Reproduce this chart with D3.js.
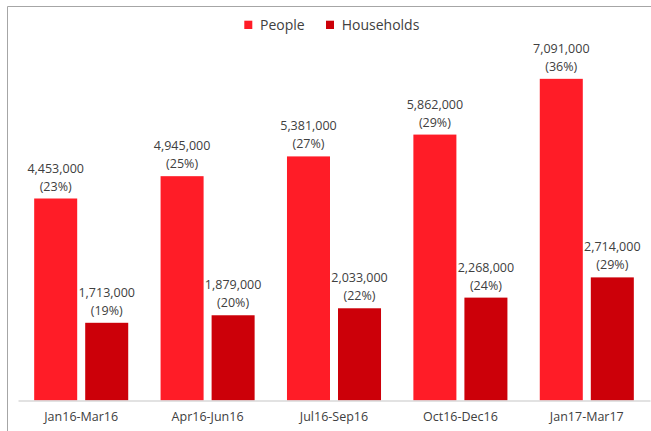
<!DOCTYPE html>
<html>
<head>
<meta charset="utf-8">
<script src="https://cdn.jsdelivr.net/npm/d3@7"></script>
<style>
  body { margin: 0; background: #fff; }
  text { font-family: "Open Sans", sans-serif; fill: #404040; }
</style>
</head>
<body>
<svg id="graph" width="651" height="431"></svg>
<script>
/*
 * Grouped bar chart of people and households per quarter
 */

// Data
var quarters = ["Jan16-Mar16", "Apr16-Jun16", "Jul16-Sep16", "Oct16-Dec16", "Jan17-Mar17"];
var seriesNames = ["People", "Households"];
var people = [4453000, 4945000, 5381000, 5862000, 7091000];
var peoplePct = [23, 25, 27, 29, 36];
var households = [1713000, 1879000, 2033000, 2268000, 2714000];
var householdsPct = [19, 20, 22, 24, 29];

var colors = {"People": "#ff1c27", "Households": "#cc0009"};

// Get the SVG, and its dimensions
var svg = d3.select("#graph"),
    width = +svg.attr("width"),
    height = +svg.attr("height"),
    margin = {top: 37.6, right: 1, bottom: 30.5, left: 18};

// Frame round the chart (only top and left edges are in the picture)
svg.append("path")
    .attr("d", "M7.5," + height + "V6.5H" + width)
    .attr("fill", "none")
    .attr("stroke", "#a6a6a6")
    .attr("stroke-width", 1);

// Scales
var xScale = d3.scaleBand().domain(quarters)
    .range([margin.left, width - margin.right])
    .paddingInner(0.256).paddingOuter(0.128);
var xSub = d3.scaleBand().domain(seriesNames)
    .range([0, xScale.bandwidth()])
    .paddingInner(0.157);
var yScale = d3.scaleLinear().domain([0, 8000000])
    .range([height - margin.bottom, margin.top]);

// Build rows from the arrays
var rows = [];
for ( var i = 0; i < quarters.length; ++i ) {
    rows.push({q: quarters[i], s: "People", v: people[i], p: peoplePct[i]});
    rows.push({q: quarters[i], s: "Households", v: households[i], p: householdsPct[i]});
}

// Bars
svg.append("g").selectAll("rect").data(rows).enter().append("rect")
    .attr("x", d => xScale(d.q) + xSub(d.s))
    .attr("y", d => yScale(d.v))
    .attr("width", xSub.bandwidth())
    .attr("height", d => yScale(0) - yScale(d.v))
    .attr("fill", d => colors[d.s]);

// Value labels, two lines above each bar
var fmt = d3.format(",");
var lab = svg.append("g").selectAll("g").data(rows).enter().append("g")
    .attr("transform", d => "translate(" + (xScale(d.q) + xSub(d.s) + xSub.bandwidth() / 2) + "," + yScale(d.v) + ")");
lab.append("text")
    .attr("y", -26)
    .attr("text-anchor", "middle")
    .style("font-size", "12.5px")
    .text(d => fmt(d.v));
lab.append("text")
    .attr("y", -8)
    .attr("text-anchor", "middle")
    .style("font-size", "12.5px")
    .text(d => "(" + d.p + "%)");

// X axis
var xAxis = d3.axisBottom().scale(xScale).tickSize(0).tickPadding(12);
var gx = svg.append("g")
    .attr("transform", "translate(0," + yScale(0) + ")")
    .call(xAxis);
gx.select(".domain").attr("stroke", "#d9d9d9").attr("stroke-width", 1.5);
gx.selectAll("text")
    .style("font-family", "Open Sans, sans-serif")
    .style("font-size", "12.5px")
    .attr("fill", "#404040");

// Legend
var legendX = [244.3, 326];
var leg = svg.append("g").selectAll("g").data(seriesNames).enter().append("g")
    .attr("transform", (d, i) => "translate(" + legendX[i] + ",20.7)");
leg.append("rect")
    .attr("width", 8).attr("height", 8.3)
    .attr("fill", d => colors[d]);
leg.append("text")
    .attr("x", 15.7).attr("y", 9.3)
    .style("font-size", "14px")
    .text(d => d);
</script>
</body>
</html>
